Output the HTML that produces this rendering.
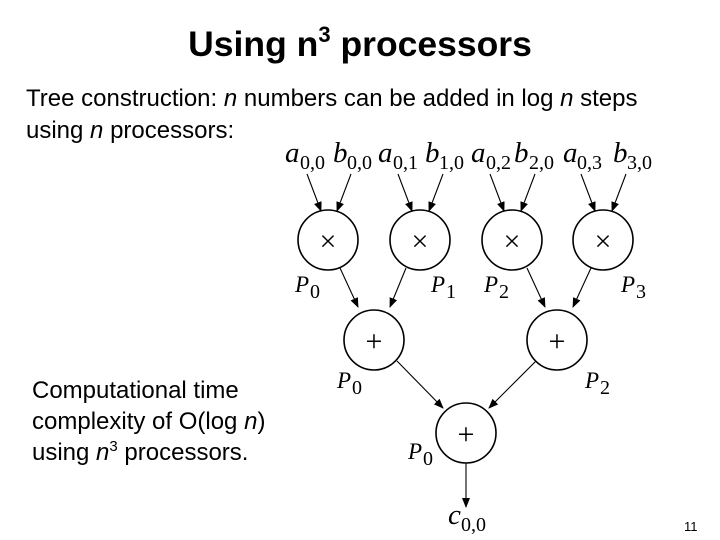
<!DOCTYPE html>
<html><head><style>
body{margin:0;width:720px;height:540px;background:#fff;position:relative;font-family:"Liberation Sans",sans-serif;overflow:hidden}
.t{position:absolute;white-space:nowrap;color:#000}
</style></head><body>
<div class="t" style="left:0;width:720px;text-align:center;top:24px;font-size:35.5px;font-weight:bold">Using n<sup style="font-size:22px;vertical-align:14px;line-height:0">3</sup> processors</div>
<div class="t" style="left:26px;top:83px;font-size:24px;line-height:32px">Tree construction: <i>n</i> numbers can be added in log <i>n</i> steps<br>using <i>n</i> processors:</div>
<div class="t" style="left:32px;top:375px;font-size:24px;line-height:31px">Computational time<br>complexity of O(log <i>n</i>)<br>using <i>n</i><sup style="font-size:15px;vertical-align:9px;line-height:0">3</sup> processors.</div>
<div class="t" style="left:684px;top:519px;font-size:13px">11</div>
<svg width="720" height="540" style="position:absolute;left:0;top:0" font-family="Liberation Serif,serif">
<defs><marker id="a" markerWidth="10" markerHeight="8" refX="9" refY="4" orient="auto" markerUnits="userSpaceOnUse"><path d="M0,0L10,4L0,8z"/></marker></defs>
<g fill="none" stroke="#000" stroke-width="1.6">
<circle cx="328" cy="240" r="30"/><circle cx="420" cy="240" r="30"/><circle cx="512" cy="240" r="30"/><circle cx="603" cy="240" r="30"/>
<circle cx="374" cy="340" r="30"/><circle cx="557" cy="340" r="30"/><circle cx="466" cy="433" r="30"/>
</g>
<g stroke="#000" stroke-width="1.1" marker-end="url(#a)">
<line x1="307" y1="174" x2="321" y2="211"/><line x1="351" y1="174" x2="337" y2="211"/>
<line x1="398" y1="174" x2="412" y2="211"/><line x1="443" y1="174" x2="429" y2="211"/>
<line x1="490" y1="174" x2="504" y2="211"/><line x1="535" y1="174" x2="521" y2="211"/>
<line x1="581" y1="174" x2="595" y2="211"/><line x1="626" y1="174" x2="612" y2="211"/>
<line x1="340" y1="268" x2="358" y2="307"/><line x1="406" y1="268" x2="390" y2="307"/>
<line x1="527" y1="268" x2="545" y2="307"/><line x1="591" y1="268" x2="573" y2="307"/>
<line x1="397" y1="361" x2="443" y2="408"/><line x1="536" y1="361" x2="489" y2="408"/>
<line x1="466" y1="463" x2="466" y2="507"/>
</g>
<g font-size="30" text-anchor="middle" font-weight="300">
<text x="328" y="251">×</text><text x="420" y="251">×</text><text x="512" y="251">×</text><text x="603" y="251">×</text>
<text x="374" y="351">+</text><text x="557" y="351">+</text><text x="466" y="444">+</text>
</g>
<g font-size="29" font-style="italic">
<text x="285" y="162">a</text><text x="333" y="162">b</text><text x="378" y="162">a</text><text x="425" y="162">b</text>
<text x="471" y="162">a</text><text x="514" y="162">b</text><text x="563" y="162">a</text><text x="613" y="162">b</text>
<text x="295" y="292" font-size="23">P</text><text x="431" y="292" font-size="23">P</text><text x="484" y="292" font-size="23">P</text><text x="621" y="292" font-size="23">P</text>
<text x="337" y="388" font-size="23">P</text><text x="585" y="388" font-size="23">P</text><text x="408" y="459" font-size="23">P</text>
<text x="448" y="524">c</text>
</g>
<g font-size="20">
<text x="300" y="169">0,0</text><text x="347" y="169">0,0</text><text x="393" y="169">0,1</text><text x="439" y="169">1,0</text>
<text x="486" y="169">0,2</text><text x="529" y="169">2,0</text><text x="577" y="169">0,3</text><text x="627" y="169">3,0</text>
<text x="310" y="298">0</text><text x="446" y="298">1</text><text x="499" y="298">2</text><text x="636" y="298">3</text>
<text x="352" y="394">0</text><text x="600" y="394">2</text><text x="423" y="465">0</text>
<text x="461" y="531">0,0</text>
</g>
</svg>
</body></html>
